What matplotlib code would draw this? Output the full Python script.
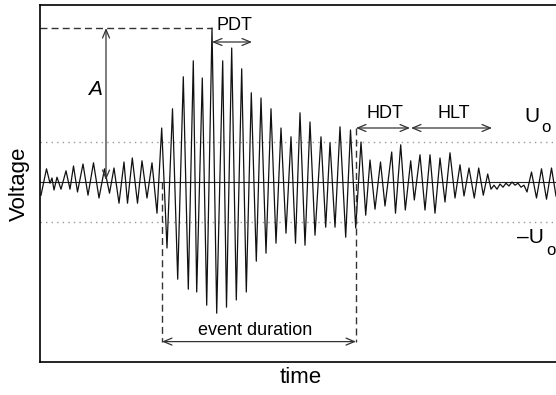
import matplotlib.pyplot as plt

# fonts close to the Helvetica of the original figure
plt.rcParams["font.family"] = ["Liberation Sans", "DejaVu Sans"]

time = [1, 6.5, 10, 12, 14, 17, 21, 26, 30, 33.5, 37.5, 43, 48, 53.5, 59, 64.5, 69.5, 74, 79, 84,
        87.5, 92.3, 97.5, 102, 107, 112, 117, 121.7, 127, 132.5, 137.7, 143.3, 148.3, 153.3, 156.7,
        162.3, 166.7, 172, 176.7, 182.7, 186.5, 191.7, 196.3, 201.7, 206.3, 211.3, 216.3, 221, 226,
        231, 236, 241, 246, 251, 255.5, 260, 265, 270, 275, 281, 285.7, 290, 295, 300, 305.7, 310.5,
        315.7, 321, 325.7, 330, 335, 340.5, 345, 351.7, 355.5, 360.7, 365.3, 370.7, 374.3, 380, 385,
        390, 395, 400, 405, 410, 415, 420, 424, 429, 434.3, 438.7, 443.3, 447.7, 451, 454, 457, 460,
        463, 466, 469, 472, 475, 478, 481, 484, 487, 491.5, 496.5, 501.5, 506.5, 511.5, 516]
voltage = [-0.33, 0.33, -0.03, 0.10, -0.20, 0.12, -0.18, 0.28, -0.18, 0.40, -0.25, 0.45, -0.33, 0.48,
           -0.40, 0.33, -0.28, 0.35, -0.53, 0.50, -0.53, 0.60, -0.53, 0.53, -0.40, 0.48, -0.78, 1.35,
           -1.65, 1.83, -2.43, 2.63, -2.68, 3.03, -2.75, 2.60, -3.08, 3.85, -3.28, 3.03, -3.13, 3.35,
           -2.95, 2.83, -2.75, 2.23, -1.98, 2.10, -1.78, 1.83, -1.53, 1.35, -1.28, 1.13, -1.53, 1.73,
           -1.58, 1.50, -1.33, 1.13, -1.13, 0.98, -1.13, 1.38, -1.38, 1.30, -1.15, 1.00, -0.83, 0.55,
           -0.68, 0.50, -0.60, 0.75, -0.78, 0.93, -0.70, 0.53, -0.45, 0.68, -0.70, 0.68, -0.78, 0.60,
           -0.50, 0.73, -0.40, 0.43, -0.35, 0.35, -0.40, 0.35, -0.33, 0.20, -0.18, -0.08, -0.18, -0.05,
           -0.13, -0.03, -0.10, 0.0, -0.08, -0.03, -0.13, -0.08, -0.25, 0.25, -0.40, 0.33, -0.43, 0.35,
           -0.35]

# characteristic quantities of the event
threshold = 1.0
peak_time = 172
peak_amplitude = 3.85
event_start = 122
event_end = 316
hdt_end = 371
hlt_end = 452

fig = plt.figure(figsize=(5.56, 3.95), dpi=100)
ax = fig.add_axes([40 / 556, 33 / 395, 522 / 556, 357 / 395])
ax.set_xlim(0, 522)
ax.set_ylim(-4.5, 4.425)

# zero line and the +-U_o threshold lines
ax.axhline(0, color="#222222", lw=0.8)
ax.axhline(threshold, color="#999999", lw=1, linestyle=(0, (1, 3)))
ax.axhline(-threshold, color="#999999", lw=1, linestyle=(0, (1, 3)))

# the waveform
ax.plot(time, voltage, color="#111111", lw=0.9)

# dashed helper lines
dash = dict(color="#333333", lw=1, linestyle=(0, (5, 3)))
ax.plot([0, peak_time], [peak_amplitude, peak_amplitude], **dash)
ax.plot([event_start, event_start], [0, -4.0], **dash)
ax.plot([event_end, event_end], [1.35, -4.0], **dash)

arrow = dict(arrowstyle="<->,head_length=0.6,head_width=0.25", color="#333333", lw=0.9,
             shrinkA=0, shrinkB=0)
# amplitude A
ax.annotate("", xy=(66, peak_amplitude), xytext=(66, 0.05), arrowprops=arrow)
ax.text(55, 2.18, "A", fontsize=15, style="italic", ha="center", va="baseline")
# peak definition time
ax.annotate("", xy=(peak_time, 3.5), xytext=(212, 3.5), arrowprops=arrow)
ax.text(194, 3.8, "PDT", fontsize=13, ha="center", va="baseline")
# hit definition time and hit lockout time
ax.annotate("", xy=(event_end, 1.35), xytext=(hdt_end - 1, 1.35), arrowprops=arrow)
ax.annotate("", xy=(hdt_end, 1.35), xytext=(hlt_end, 1.35), arrowprops=arrow)
ax.text(345, 1.59, "HDT", fontsize=13, ha="center", va="baseline")
ax.text(414, 1.59, "HLT", fontsize=13, ha="center", va="baseline")
# event duration
ax.annotate("", xy=(event_start, -3.99), xytext=(event_end, -3.99), arrowprops=arrow)
ax.text(215, -3.83, "event duration", fontsize=13, ha="center", va="baseline")

# threshold labels, subscript o written as its own text
ax.text(484, 1.51, "U", fontsize=15, ha="left", va="baseline")
ax.text(501, 1.26, "o", fontsize=12, ha="left", va="baseline")
ax.text(477, -1.53, "–U", fontsize=15, ha="left", va="baseline")
ax.text(506, -1.83, "o", fontsize=12, ha="left", va="baseline")

# frame without ticks, the right edge lies outside the picture
ax.set_xticks([])
ax.set_yticks([])
for side in ax.spines.values():
    side.set_linewidth(1.2)
ax.spines["right"].set_visible(False)

ax.set_xlabel("time", fontsize=16)
ax.set_ylabel("Voltage", fontsize=16)
ax.xaxis.set_label_coords(0.5, -0.014)
ax.yaxis.set_label_coords(-0.02, 0.5)

fig.savefig("out.png", dpi=100)
